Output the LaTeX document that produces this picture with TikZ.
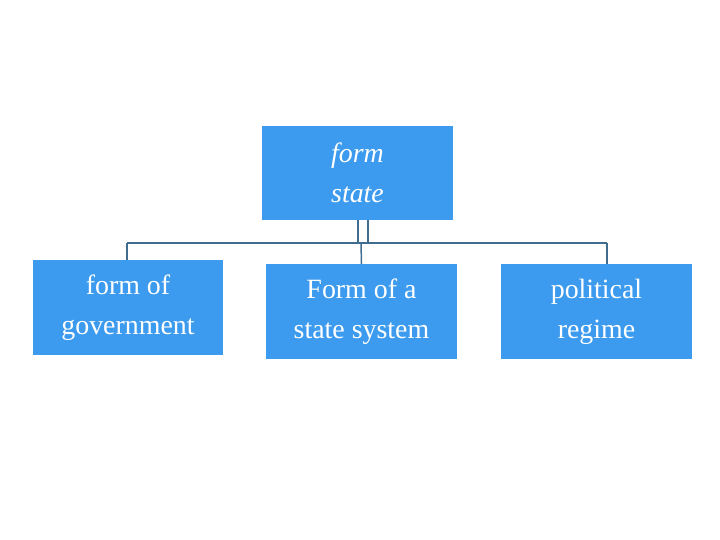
\documentclass[tikz,border=0pt]{standalone}
\usepackage{fontspec}
\setmainfont{Liberation Serif}
\definecolor{boxblue}{HTML}{3C9BEE}
\definecolor{linec}{HTML}{3F6D8F}
\begin{document}
\begin{tikzpicture}[x=1bp,y=-1bp,
  bx/.style={fill=boxblue,draw=none,text=white,align=center,font=\fontsize{28}{40}\selectfont},
  ln/.style={draw=linec,line width=1.5bp}]
\useasboundingbox (0,0) rectangle (720,540);
\node[bx,minimum width=191bp,minimum height=94bp] (top) at (357.5,173) {\itshape form\\\itshape state};
\node[bx,minimum width=190bp,minimum height=95bp] (a) at (128,307.5) {form of\\government};
\node[bx,minimum width=191bp,minimum height=95bp] (b) at (361.5,311.5) {Form of a\\state system};
\node[bx,minimum width=191bp,minimum height=95bp] (c) at (596.5,311.5) {political\\regime};
\coordinate (hl) at (127,243);
\coordinate (hr) at (607,243);
\draw[ln] (top.south -| 358,0) -- (358,243);
\draw[ln] (top.south -| 368,0) -- (368,243);
\draw[ln] (hl) -- (hr);
\draw[ln] (hl) -- (a.north -| hl);
\draw[ln] (361,243) -- (b.north);
\draw[ln] (hr) -- (c.north -| hr);
\end{tikzpicture}
\end{document}
